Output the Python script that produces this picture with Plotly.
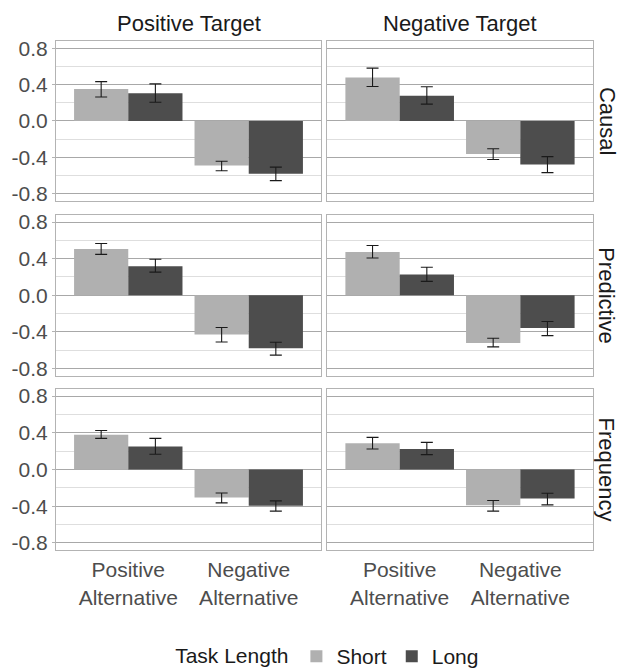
import plotly.graph_objects as go

# ---- data ----
row_labels = ["Causal", "Predictive", "Frequency"]
col_labels = ["Positive Target", "Negative Target"]
categories = ["Positive Alternative", "Negative Alternative"]
category_ticks = ["Positive<br>Alternative", "Negative<br>Alternative"]
y_ticks = [0.8, 0.4, 0.0, -0.4, -0.8]
y_tick_text = ["0.8", "0.4", "0.0", "-0.4", "-0.8"]
y_minor = [0.6, 0.2, -0.2, -0.6]

# panels in row-major order: (Causal,PosT), (Causal,NegT), (Pred,PosT), (Pred,NegT), (Freq,PosT), (Freq,NegT)
short_mean = [[0.35, -0.49], [0.476, -0.364], [0.505, -0.429], [0.472, -0.523], [0.378, -0.306], [0.285, -0.389]]
short_hi = [[0.432, -0.443], [0.58, -0.306], [0.566, -0.353], [0.544, -0.472], [0.425, -0.256], [0.35, -0.339]]
short_lo = [[0.263, -0.548], [0.378, -0.425], [0.447, -0.512], [0.407, -0.566], [0.339, -0.364], [0.223, -0.454]]
long_mean = [[0.303, -0.58], [0.277, -0.479], [0.317, -0.58], [0.227, -0.36], [0.249, -0.396], [0.223, -0.317]]
long_hi = [[0.407, -0.508], [0.375, -0.393], [0.393, -0.515], [0.306, -0.288], [0.339, -0.342], [0.295, -0.259]]
long_lo = [[0.205, -0.656], [0.184, -0.569], [0.252, -0.656], [0.151, -0.443], [0.166, -0.454], [0.162, -0.386]]

series = [
    ("Short", "#b0b0b0", short_mean, short_hi, short_lo),
    ("Long", "#4d4d4d", long_mean, long_hi, long_lo),
]

# figure is a little taller than the window so the legend sits near the bottom edge
W, H = 626, 681
col_px = [(56.0, 321.0), (327.3, 592.7)]
row_px = [(37.3, 199.3), (213.3, 376.0), (389.3, 552.7)]

fig = go.Figure()
FONT = "Liberation Sans, Arial, Helvetica, sans-serif"

for r in range(3):
    for c in range(2):
        idx = r * 2 + c
        ax = idx + 1
        xa = "x" if ax == 1 else f"x{ax}"
        ya = "y" if ax == 1 else f"y{ax}"
        for name, color, m, hi, lo in series:
            means = m[idx]
            up = [h - v for h, v in zip(hi[idx], means)]
            dn = [v - l for l, v in zip(lo[idx], means)]
            fig.add_trace(go.Bar(
                x=categories, y=means, name=name, marker=dict(color=color, line=dict(width=0)),
                error_y=dict(type="data", symmetric=False, array=up, arrayminus=dn,
                             color="#1a1a1a", thickness=1.1, width=6),
                xaxis=xa, yaxis=ya, showlegend=(idx == 0), legendgroup=name,
            ))
        x0, x1 = col_px[c]
        y0, y1 = row_px[r]
        xkey = "xaxis" if ax == 1 else f"xaxis{ax}"
        ykey = "yaxis" if ax == 1 else f"yaxis{ax}"
        fig.update_layout({
            xkey: dict(domain=[x0 / W, x1 / W], anchor=ya, type="category",
                       categoryorder="array", categoryarray=categories,
                       range=[-0.6, 1.6], showgrid=False, zeroline=False,
                       showline=True, mirror=True, linecolor="#b3b3b3", linewidth=1,
                       tickvals=categories, ticktext=category_ticks,
                       showticklabels=(r == 2), ticks="", ticklabelstandoff=1,
                       tickfont=dict(size=21, color="#4d4d4d", family=FONT)),
            ykey: dict(domain=[1 - y1 / H, 1 - y0 / H], anchor=xa,
                       range=[-0.88, 0.88], tickvals=y_ticks, ticktext=y_tick_text,
                       showticklabels=(c == 0), ticks="outside" if c == 0 else "",
                       ticklen=3, tickcolor="#b3b3b3",
                       showgrid=True, gridcolor="#a8a8a8", gridwidth=1, zeroline=False,
                       minor=dict(tickvals=y_minor, showgrid=True, gridcolor="#dedede", gridwidth=1, ticks=""),
                       showline=True, mirror=True, linecolor="#b3b3b3", linewidth=1,
                       tickfont=dict(size=21, color="#4d4d4d", family=FONT)),
        })

annotations = []
for c, lab in enumerate(col_labels):
    x0, x1 = col_px[c]
    annotations.append(dict(text=lab, x=(x0 + x1) / 2 / W, y=1 - 20 / H, xref="paper", yref="paper",
                            showarrow=False, font=dict(size=22, color="#1a1a1a", family=FONT),
                            xanchor="center", yanchor="middle"))
for r, lab in enumerate(row_labels):
    y0, y1 = row_px[r]
    annotations.append(dict(text=lab, x=607 / W, y=1 - (y0 + y1) / 2 / H, xref="paper", yref="paper",
                            showarrow=False, textangle=90, font=dict(size=22, color="#1a1a1a", family=FONT),
                            xanchor="center", yanchor="middle"))

fig.update_layout(
    width=W, height=H, margin=dict(l=0, r=0, t=0, b=0),
    paper_bgcolor="white", plot_bgcolor="white",
    barmode="group", bargap=0.1, bargroupgap=0,
    annotations=annotations,
    font=dict(family=FONT),
    legend=dict(orientation="h", x=0.525, xanchor="center", y=0, yanchor="bottom",
                title=dict(text="Task Length", side="left", font=dict(size=21, color="#1a1a1a")),
                font=dict(size=21, color="#1a1a1a"), itemwidth=30, traceorder="normal"),
)

fig.write_html("out.html", config={"displayModeBar": False},
               post_script="document.body.style.margin='0';document.body.style.overflow='hidden';")
